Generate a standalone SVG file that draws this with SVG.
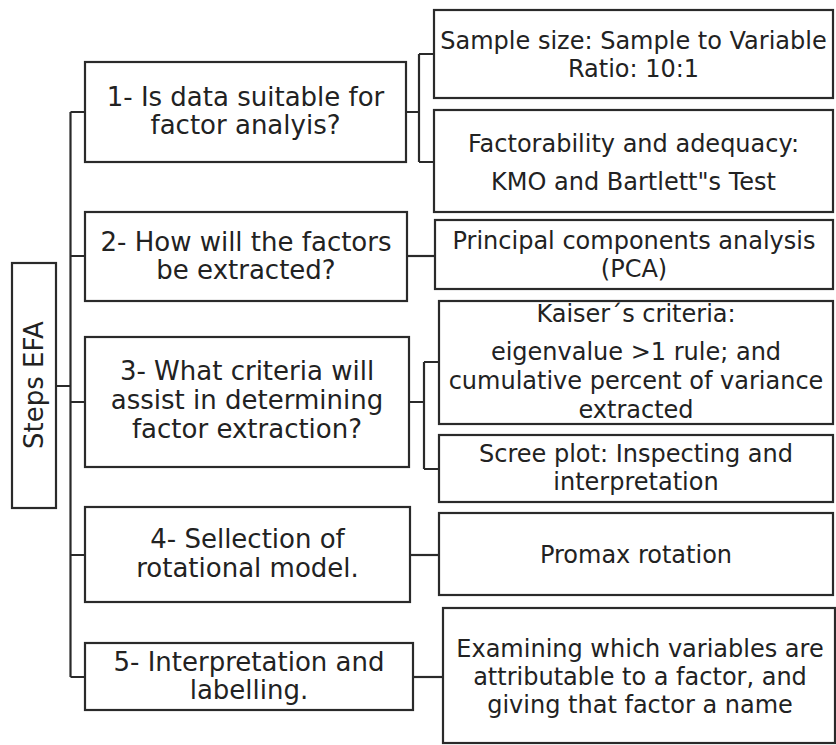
<svg xmlns="http://www.w3.org/2000/svg" width="836" height="745" viewBox="0 0 836 745">
<style>
.box{fill:#fff;stroke:#2a2a2a;stroke-width:2.2}
.ln{fill:none;stroke:#2a2a2a;stroke-width:2.2}
text{font-family:"DejaVu Sans",Verdana,sans-serif;fill:#222;text-anchor:middle}
.l{font-size:26px}
.r{font-size:24px}
</style>
<rect width="836" height="745" fill="#fff"/>
<g id="connectors">
<path class="ln" d="M56,386H70.5M70.5,112V677M70.5,112H85M70.5,256H85M70.5,402H85M70.5,555H85M70.5,677H85"/>
<path class="ln" d="M406,112H419M419,54V162M419,54H434M419,162H434"/>
<path class="ln" d="M407,256H435"/>
<path class="ln" d="M409,402H424M424,362V469M424,362H439M424,469H439"/>
<path class="ln" d="M410,555H439"/>
<path class="ln" d="M413,677H443"/>
</g>
<g id="root">
<rect class="box" x="12" y="263" width="44" height="245"/>
<text class="l" transform="translate(34,385) rotate(-90)" y="9">Steps EFA</text>
</g>
<g id="step1">
<rect class="box" x="85" y="62" width="321" height="100"/>
<text class="l" x="245.5" y="106">1- Is data suitable for</text>
<text class="l" x="245.5" y="134">factor analyis?</text>
</g>
<g id="step2">
<rect class="box" x="85" y="212" width="322" height="89"/>
<text class="l" x="246" y="251">2- How will the factors</text>
<text class="l" x="246" y="279">be extracted?</text>
</g>
<g id="step3">
<rect class="box" x="85" y="337" width="324" height="130"/>
<text class="l" x="247" y="380">3- What criteria will</text>
<text class="l" x="247" y="409">assist in determining</text>
<text class="l" x="247" y="438">factor extraction?</text>
</g>
<g id="step4">
<rect class="box" x="85" y="507" width="325" height="95"/>
<text class="l" x="247.5" y="548">4- Sellection of</text>
<text class="l" x="247.5" y="577">rotational model.</text>
</g>
<g id="step5">
<rect class="box" x="85" y="643" width="328" height="67"/>
<text class="l" x="249" y="671">5- Interpretation and</text>
<text class="l" x="249" y="699">labelling.</text>
</g>
<g id="sampleSize">
<rect class="box" x="434" y="10" width="399" height="88"/>
<text class="r" x="633.5" y="49">Sample size: Sample to Variable</text>
<text class="r" x="633.5" y="77">Ratio: 10:1</text>
</g>
<g id="factorability">
<rect class="box" x="434" y="110" width="399" height="102"/>
<text class="r" x="633.5" y="152">Factorability and adequacy:</text>
<text class="r" x="633.5" y="190">KMO and Bartlett"s Test</text>
</g>
<g id="pca">
<rect class="box" x="435" y="220" width="398" height="69"/>
<text class="r" x="634" y="249">Principal components analysis</text>
<text class="r" x="634" y="277">(PCA)</text>
</g>
<g id="kaiser">
<rect class="box" x="439" y="301" width="394" height="123"/>
<text class="r" x="636" y="322">Kaiser´s criteria:</text>
<text class="r" x="636" y="360">eigenvalue &gt;1 rule; and</text>
<text class="r" x="636" y="389">cumulative percent of variance</text>
<text class="r" x="636" y="418">extracted</text>
</g>
<g id="scree">
<rect class="box" x="439" y="435" width="394" height="67"/>
<text class="r" x="636" y="462">Scree plot: Inspecting and</text>
<text class="r" x="636" y="490">interpretation</text>
</g>
<g id="promax">
<rect class="box" x="439" y="513" width="394" height="82"/>
<text class="r" x="636" y="563">Promax rotation</text>
</g>
<g id="interpretation">
<rect class="box" x="443" y="608" width="392" height="135"/>
<text class="r" x="640" y="657">Examining which variables are</text>
<text class="r" x="640" y="685">attributable to a factor, and</text>
<text class="r" x="640" y="713">giving that factor a name</text>
</g>
</svg>
